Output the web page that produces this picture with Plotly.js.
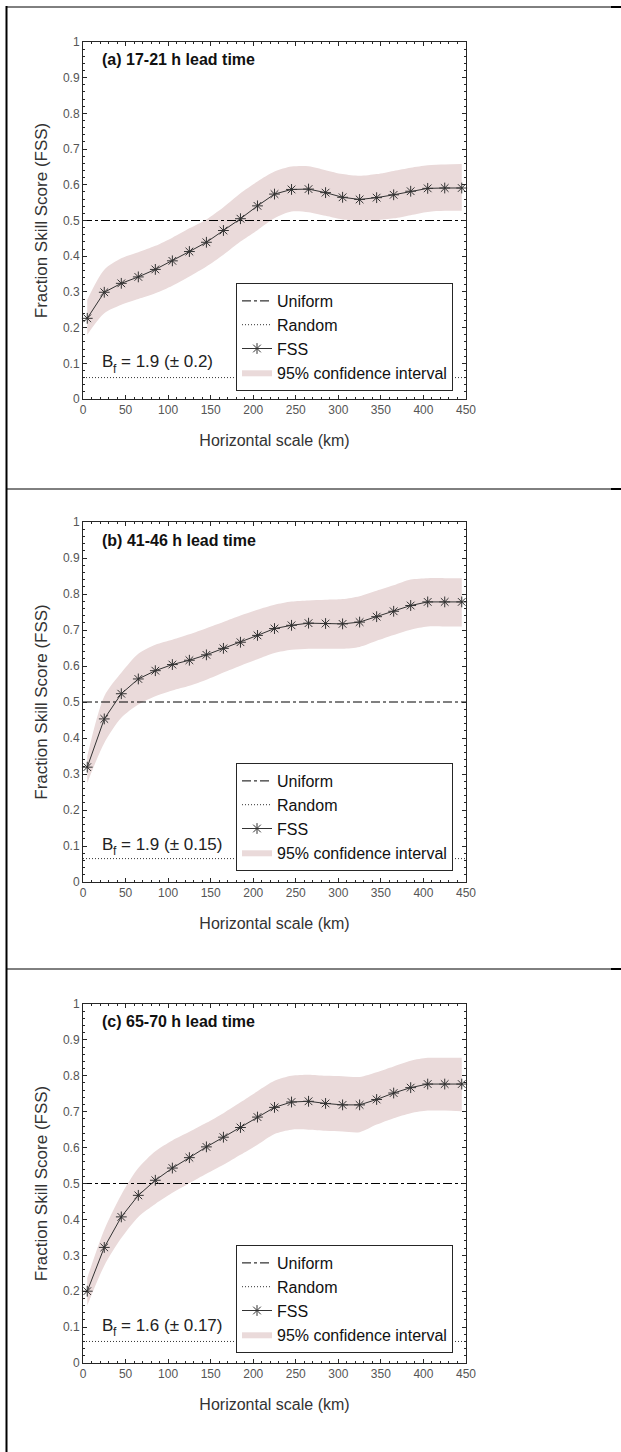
<!DOCTYPE html>
<html>
<head>
<meta charset="utf-8">
<script src="https://cdn.plot.ly/plotly-3.0.1.min.js"></script>
<style>
  html, body { margin: 0; padding: 0; background: #fff; }
  #chart { width: 621px; height: 1452px; }
</style>
</head>
<body>
<div id="chart"></div>
<script>
// ---------------- data ----------------
const xKm = [5, 25, 45, 65, 85, 105, 125, 145, 165, 185, 205, 225, 245, 265, 285, 305, 325, 345, 365, 385, 405, 425, 445];

const fssA   = [0.226, 0.299, 0.324, 0.342, 0.363, 0.387, 0.413, 0.439, 0.472, 0.505, 0.541, 0.574, 0.587, 0.588, 0.578, 0.565, 0.559, 0.564, 0.572, 0.582, 0.590, 0.591, 0.591];
const ciLowA = [0.180, 0.240, 0.264, 0.280, 0.296, 0.317, 0.343, 0.371, 0.404, 0.441, 0.473, 0.506, 0.525, 0.523, 0.513, 0.503, 0.500, 0.501, 0.506, 0.515, 0.524, 0.527, 0.527];
const ciUpA  = [0.278, 0.362, 0.394, 0.411, 0.429, 0.452, 0.478, 0.503, 0.537, 0.576, 0.609, 0.637, 0.651, 0.652, 0.641, 0.630, 0.625, 0.630, 0.639, 0.648, 0.655, 0.657, 0.658];

const fssB   = [0.319, 0.453, 0.523, 0.564, 0.587, 0.604, 0.616, 0.631, 0.649, 0.666, 0.685, 0.704, 0.713, 0.719, 0.718, 0.717, 0.722, 0.737, 0.752, 0.768, 0.778, 0.778, 0.778];
const ciLowB = [0.275, 0.386, 0.456, 0.493, 0.516, 0.532, 0.545, 0.562, 0.582, 0.601, 0.619, 0.636, 0.645, 0.648, 0.648, 0.648, 0.653, 0.670, 0.686, 0.701, 0.710, 0.710, 0.710];
const ciUpB  = [0.349, 0.516, 0.581, 0.634, 0.659, 0.673, 0.688, 0.705, 0.722, 0.740, 0.756, 0.770, 0.779, 0.782, 0.784, 0.786, 0.794, 0.809, 0.824, 0.840, 0.844, 0.844, 0.844];

const fssC   = [0.200, 0.322, 0.407, 0.467, 0.509, 0.543, 0.572, 0.602, 0.629, 0.656, 0.685, 0.712, 0.727, 0.729, 0.723, 0.719, 0.719, 0.734, 0.752, 0.767, 0.777, 0.777, 0.777];
const ciLowC = [0.160, 0.271, 0.348, 0.407, 0.443, 0.474, 0.501, 0.527, 0.552, 0.580, 0.608, 0.638, 0.650, 0.650, 0.647, 0.645, 0.643, 0.664, 0.682, 0.696, 0.703, 0.703, 0.701];
const ciUpC  = [0.237, 0.371, 0.469, 0.543, 0.590, 0.620, 0.644, 0.669, 0.696, 0.726, 0.757, 0.786, 0.800, 0.803, 0.800, 0.799, 0.797, 0.810, 0.826, 0.842, 0.850, 0.850, 0.850];

const refLineX      = [0, 450];
const uniformLevels = [0.5, 0.5, 0.5];
const randomLevels  = [0.06, 0.065, 0.06];

const panelTitles = ['(a) 17-21 h lead time', '(b) 41-46 h lead time', '(c) 65-70 h lead time'];
const biasSymbol  = 'B';
const biasSub     = 'f';
const biasTexts   = ['= 1.9 (± 0.2)', '= 1.9 (± 0.15)', '= 1.6 (± 0.17)'];
const legendNames = ['Uniform', 'Random', 'FSS', '95% confidence interval'];
const xTitle = 'Horizontal scale (km)';
const yTitle = 'Fraction Skill Score (FSS)';

// ---------------- layout geometry (pixels) ----------------
const W = 621, H = 1452;
const plotLeft = 83, plotRight = 466;
const panelPix = [[42, 399], [522, 882], [1004, 1363]];  // top, bottom of each plot area
const legendTopPix = [283, 763, 1245];
const legendLeftPix = 236;

const FONT = 'Liberation Sans, Arial, Helvetica, sans-serif';
const AXC = '#262626';
const bandColor = 'rgb(234,218,218)';

const panels = [
  {fss: fssA, lo: ciLowA, up: ciUpA},
  {fss: fssB, lo: ciLowB, up: ciUpB},
  {fss: fssC, lo: ciLowC, up: ciUpC}
];

const traces = [];
const layout = {
  width: W, height: H,
  margin: {l: 0, r: 0, t: 0, b: 0},
  paper_bgcolor: '#fff', plot_bgcolor: '#fff',
  font: {family: FONT, color: AXC},
  showlegend: true,
  annotations: [],
  shapes: []
};

panels.forEach((p, i) => {
  const sfx = i === 0 ? '' : String(i + 1);
  const xa = 'x' + sfx, ya = 'y' + sfx;
  const lg = 'legend' + sfx;

  // confidence band (lower edge, then upper edge filled down to it)
  traces.push({
    x: xKm, y: p.lo, xaxis: xa, yaxis: ya, type: 'scatter', mode: 'lines',
    line: {width: 0, shape: 'spline', smoothing: 0.8}, hoverinfo: 'skip',
    showlegend: false, legend: lg
  });
  traces.push({
    x: xKm, y: p.up, xaxis: xa, yaxis: ya, type: 'scatter', mode: 'lines',
    line: {width: 0, shape: 'spline', smoothing: 0.8}, fill: 'tonexty', fillcolor: bandColor,
    name: legendNames[3], legend: lg, legendrank: 4
  });
  // uniform
  traces.push({
    x: refLineX, y: [uniformLevels[i], uniformLevels[i]], xaxis: xa, yaxis: ya,
    type: 'scatter', mode: 'lines', line: {color: '#000', width: 1, dash: 'dashdot'},
    name: legendNames[0], legend: lg, legendrank: 1
  });
  // random
  traces.push({
    x: refLineX, y: [randomLevels[i], randomLevels[i]], xaxis: xa, yaxis: ya,
    type: 'scatter', mode: 'lines', line: {color: '#333', width: 1, dash: '1px,2px'},
    name: legendNames[1], legend: lg, legendrank: 2
  });
  // FSS
  traces.push({
    x: xKm, y: p.fss, xaxis: xa, yaxis: ya, type: 'scatter', mode: 'lines+markers',
    line: {color: '#333', width: 1},
    marker: {symbol: 'asterisk-open', size: 9, color: '#333', line: {color: '#333', width: 1}},
    cliponaxis: false,
    name: legendNames[2], legend: lg, legendrank: 3
  });

  const top = panelPix[i][0], bot = panelPix[i][1];
  layout['xaxis' + sfx] = {
    domain: [plotLeft / W, plotRight / W], anchor: ya,
    range: [0, 450], dtick: 50, tick0: 0,
    ticks: 'inside', ticklen: 4, tickcolor: AXC, tickwidth: 1,
    minor: {dtick: 10, ticks: 'inside', ticklen: 2, tickcolor: AXC},
    showline: true, linecolor: AXC, linewidth: 1, mirror: 'allticks',
    showgrid: false, zeroline: false,
    tickfont: {size: 12, color: '#555', family: FONT},
    title: {text: xTitle, font: {size: 16, color: '#333', family: FONT}, standoff: 18},
    automargin: false, fixedrange: true
  };
  layout['yaxis' + sfx] = {
    domain: [1 - bot / H, 1 - top / H], anchor: xa,
    range: [0, 1], dtick: 0.1, tick0: 0,
    ticks: 'inside', ticklen: 4, tickcolor: AXC, tickwidth: 1,
    minor: {dtick: 0.02, ticks: 'inside', ticklen: 2, tickcolor: AXC},
    showline: true, linecolor: AXC, linewidth: 1, mirror: 'allticks',
    showgrid: false, zeroline: false,
    tickfont: {size: 12, color: '#555', family: FONT},
    title: {text: yTitle, font: {size: 17, color: '#333', family: FONT}, standoff: 10},
    automargin: false, fixedrange: true
  };
  layout[lg] = {
    x: legendLeftPix / W, y: 1 - legendTopPix[i] / H, xanchor: 'left', yanchor: 'top',
    xref: 'paper', yref: 'paper',
    bgcolor: '#fff', bordercolor: AXC, borderwidth: 1,
    font: {size: 16, color: '#111', family: FONT},
    traceorder: 'normal', tracegroupgap: 0, itemwidth: 30
  };
  // panel title
  layout.annotations.push({
    xref: xa, yref: ya, x: 20, y: 0.95, xanchor: 'left', yanchor: 'middle',
    text: '<b>' + panelTitles[i] + '</b>', showarrow: false,
    font: {size: 16, color: '#111', family: FONT}
  });
  // frequency bias label: "B" + subscript "f" + "= value (± err)"
  layout.annotations.push({
    xref: xa, yref: ya, x: 20, y: 0.105, xanchor: 'left', yanchor: 'middle',
    text: biasSymbol, showarrow: false,
    font: {size: 17, color: '#222', family: FONT}
  });
  layout.annotations.push({
    xref: xa, yref: ya, x: 20, y: 0.105, xanchor: 'left', yanchor: 'middle',
    xshift: 11, yshift: -7,
    text: biasSub, showarrow: false,
    font: {size: 12, color: '#222', family: FONT}
  });
  layout.annotations.push({
    xref: xa, yref: ya, x: 20, y: 0.105, xanchor: 'left', yanchor: 'middle',
    xshift: 19,
    text: biasTexts[i], showarrow: false,
    font: {size: 17, color: '#222', family: FONT}
  });
});

// table-like cell borders around the three panels
const bx = (px) => px / W, by = (py) => 1 - py / H;
layout.shapes.push({type: 'line', xref: 'paper', yref: 'paper', x0: bx(6.5), x1: bx(6.5), y0: by(6), y1: by(1452), line: {color: '#000', width: 2}});
[7, 489, 969].forEach(py => {
  layout.shapes.push({type: 'line', xref: 'paper', yref: 'paper', x0: bx(6), x1: bx(611), y0: by(py), y1: by(py), line: {color: '#000', width: 1}});
  layout.shapes.push({type: 'line', xref: 'paper', yref: 'paper', x0: bx(611), x1: bx(621), y0: by(py), y1: by(py), line: {color: '#000', width: 2}});
});

Plotly.newPlot('chart', traces, layout, {displayModeBar: false, staticPlot: true});
</script>
</body>
</html>
